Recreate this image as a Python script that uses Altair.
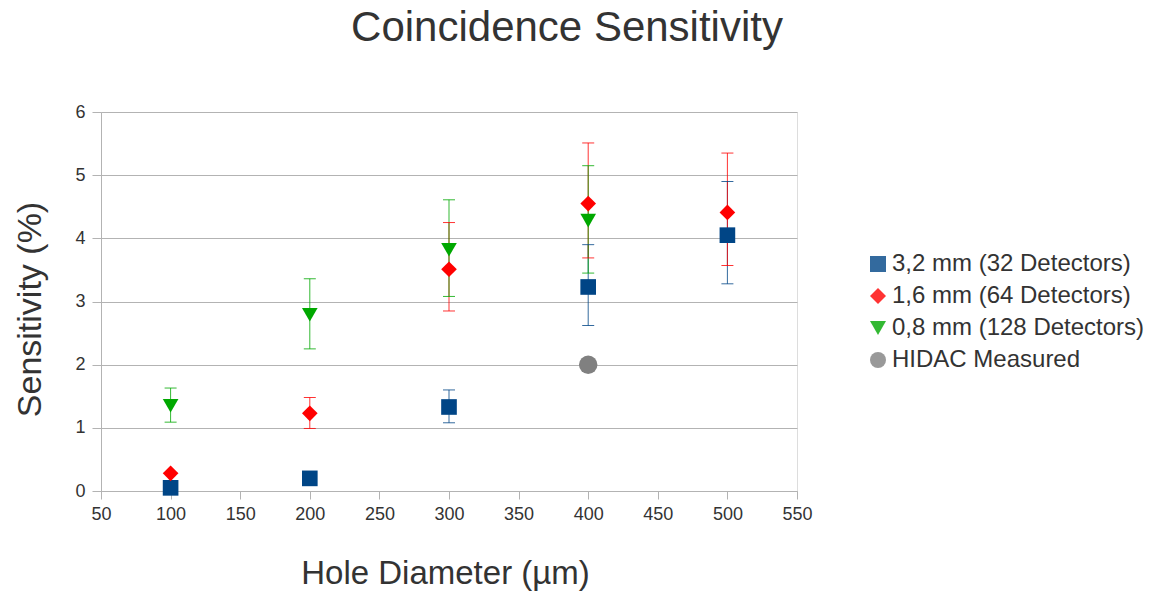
import altair as alt
import pandas as pd

# ---- data ----
series_names = ["3,2 mm (32 Detectors)", "1,6 mm (64 Detectors)",
                "0,8 mm (128 Detectors)", "HIDAC Measured"]

s32_x = [100, 200, 300, 400, 500]
s32_y = [0.05, 0.20, 1.33, 3.23, 4.05]
s32_lo = [None, None, 1.08, 2.62, 3.28]
s32_hi = [None, None, 1.60, 3.90, 4.90]

s16_x = [100, 200, 300, 400, 500]
s16_y = [0.28, 1.23, 3.51, 4.55, 4.41]
s16_lo = [None, 0.99, 2.85, 3.69, 3.57]
s16_hi = [None, 1.48, 4.25, 5.51, 5.35]

s08_x = [100, 200, 300, 400]
s08_y = [1.35, 2.79, 3.82, 4.28]
s08_lo = [1.09, 2.25, 3.08, 3.45]
s08_hi = [1.63, 3.36, 4.61, 5.15]

hidac_x = [400]
hidac_y = [2.0]
hidac_lo = [None]
hidac_hi = [None]

x_ticks = [50, 100, 150, 200, 250, 300, 350, 400, 450, 500, 550]
y_ticks = [0, 1, 2, 3, 4, 5, 6]

# ---- styles ----
FONT = "Liberation Sans"
TXT = "#333333"
GRID = "#b3b3b3"
colors = ["#004586", "#ff0000", "#00a800", "#808080"]
shapes = ["square", "diamond", "triangle-down", "circle"]
color_of = dict(zip(series_names, colors))

# ---- table ----
rows = []
for name, xs, ys, los, his in [
    (series_names[0], s32_x, s32_y, s32_lo, s32_hi),
    (series_names[1], s16_x, s16_y, s16_lo, s16_hi),
    (series_names[2], s08_x, s08_y, s08_lo, s08_hi),
    (series_names[3], hidac_x, hidac_y, hidac_lo, hidac_hi),
]:
    for x, y, lo, hi in zip(xs, ys, los, his):
        rows.append({"series": name, "x": x, "y": y, "lo": lo, "hi": hi})
df = pd.DataFrame(rows)
err = df.dropna(subset=["lo", "hi"]).copy()
err["hex"] = err["series"].map(color_of)

xscale = alt.Scale(domain=[50, 550], nice=False, zero=False)
yscale = alt.Scale(domain=[0, 6], nice=False)

xaxis = alt.Axis(values=x_ticks, grid=False, domainColor=GRID, tickColor=GRID,
                 tickSize=8, labelFontSize=18, labelColor=TXT, labelFont=FONT,
                 labelPadding=6, labelFlush=False, labelOverlap=False, format="d",
                 title="Hole Diameter (µm)", titleFontSize=33, titleFont=FONT,
                 titleFontWeight="normal", titleColor=TXT, titleX=344, titleY=92,
                 titleBaseline="alphabetic")
yaxis = alt.Axis(values=y_ticks, grid=True, gridColor=GRID, domainColor=GRID,
                 tickColor=GRID, tickSize=9, labelFontSize=18, labelColor=TXT,
                 labelFont=FONT, labelPadding=7, labelFlush=False, format="d",
                 title="Sensitivity (%)", titleFontSize=34, titleFont=FONT,
                 titleFontWeight="normal", titleColor=TXT, titleX=-61, titleY=197,
                 titleBaseline="alphabetic", titleAngle=270)

err_color = alt.Color("hex:N", scale=None)
base_err = alt.Chart(err)

rules = base_err.mark_rule(strokeWidth=1, opacity=0.8).encode(
    x=alt.X("x:Q", scale=xscale, axis=xaxis),
    y=alt.Y("lo:Q", scale=yscale, axis=yaxis),
    y2="hi:Q",
    color=err_color,
)
caps_lo = base_err.mark_tick(orient="horizontal", size=12, thickness=1, opacity=0.8).encode(
    x=alt.X("x:Q", scale=xscale),
    y=alt.Y("lo:Q", scale=yscale),
    color=err_color,
)
caps_hi = base_err.mark_tick(orient="horizontal", size=12, thickness=1, opacity=0.8).encode(
    x=alt.X("x:Q", scale=xscale),
    y=alt.Y("hi:Q", scale=yscale),
    color=err_color,
)

legend = alt.Legend(title=None, orient="none", legendX=765, legendY=140,
                    labelFontSize=24, labelFont=FONT, labelColor=TXT, labelLimit=500,
                    symbolSize=256, rowPadding=8, labelOffset=2,
                    symbolStrokeWidth=0, symbolOpacity=1)

points = alt.Chart(df).mark_point(filled=True, opacity=1, strokeWidth=0).encode(
    x=alt.X("x:Q", scale=xscale),
    y=alt.Y("y:Q", scale=yscale),
    color=alt.Color("series:N", scale=alt.Scale(domain=series_names, range=colors),
                    sort=series_names, legend=legend),
    shape=alt.Shape("series:N", scale=alt.Scale(domain=series_names, range=shapes),
                    sort=series_names, legend=legend),
    size=alt.condition(alt.datum.series == "HIDAC Measured", alt.value(340), alt.value(245)),
)

chart = alt.layer(rules, caps_lo, caps_hi, points).properties(
    width=696, height=379,
    padding={"left": 101, "top": 112, "right": 361, "bottom": 101},
    autosize=alt.AutoSizeParams(type="none"),
    title=alt.TitleParams("Coincidence Sensitivity", fontSize=42, font=FONT, color=TXT,
                          fontWeight="normal", anchor="middle", dx=118, offset=53),
).configure_view(stroke=GRID, strokeWidth=1).configure(background="white")

chart.save("out.html", embed_options={"renderer": "svg", "actions": False})
